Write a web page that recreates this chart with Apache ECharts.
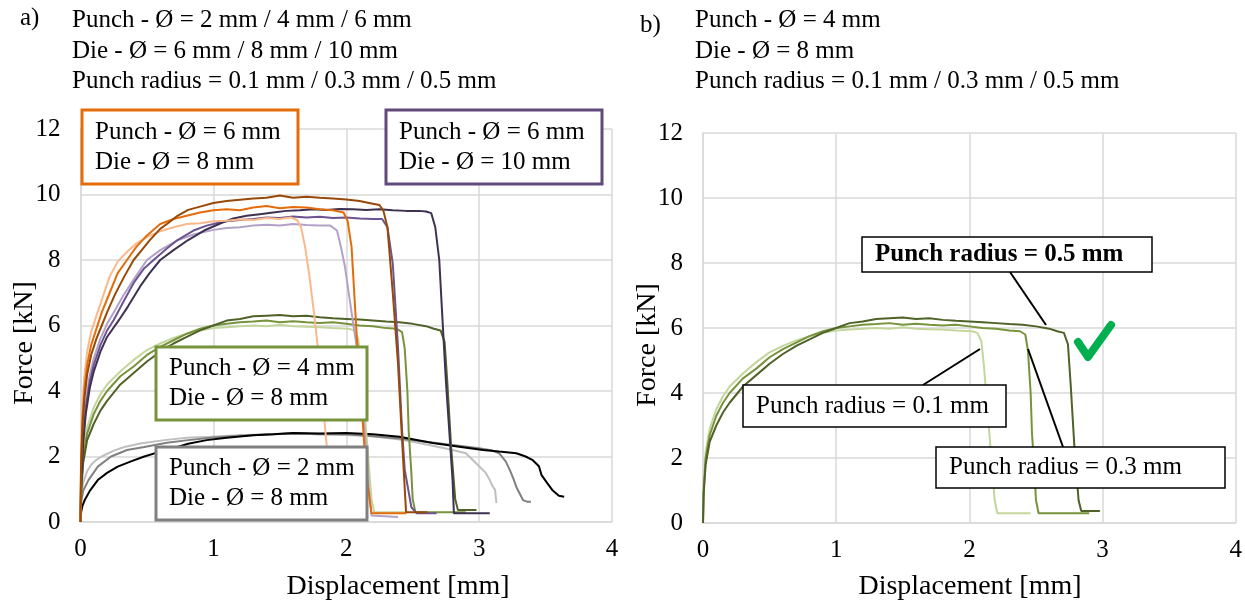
<!DOCTYPE html>
<html style="height: 100%">
<head>
    <meta charset="UTF-8">
    <title>Force - displacement</title>
    <script src="https://cdn.jsdelivr.net/npm/echarts/dist/echarts.min.js"></script>
    <style>
        #main { width: 1245px; height: 603px; }
    </style>
</head>
<body style="height: 100%; margin: 0; background: #fff">
    <div id="main"></div>
    <script type="text/javascript">
        // displacement [mm], force [kN]
        var lightOrange = [[0,0],[0.004,2.2],[0.015,3.6],[0.03,4.5],[0.05,5.2],[0.08,5.8],[0.12,6.3],[0.17,6.9],[0.22,7.5],[0.28,7.95],[0.35,8.25],[0.42,8.5],[0.5,8.7],[0.6,8.88],[0.7,9.0],[0.8,9.1],[0.9,9.12],[1.0,9.18],[1.1,9.2],[1.2,9.24],[1.3,9.22],[1.4,9.28],[1.5,9.25],[1.58,9.3],[1.63,9.22],[1.66,9.0],[1.69,8.4],[1.72,7.6],[1.76,6.3],[1.8,4.8],[1.84,2.9],[1.87,1.6],[1.9,0.5],[1.92,0.3],[2.1,0.3]];
        var orange = [[0,0],[0.004,1.8],[0.015,3.2],[0.03,4.1],[0.05,4.8],[0.08,5.4],[0.12,5.9],[0.16,6.4],[0.22,7.0],[0.28,7.6],[0.35,8.0],[0.42,8.4],[0.5,8.75],[0.6,9.1],[0.7,9.25],[0.8,9.35],[0.9,9.45],[1.0,9.52],[1.1,9.55],[1.2,9.52],[1.3,9.6],[1.4,9.65],[1.5,9.58],[1.6,9.62],[1.7,9.6],[1.8,9.55],[1.9,9.52],[1.98,9.45],[2.01,9.2],[2.04,8.4],[2.08,5.6],[2.12,3.3],[2.15,1.5],[2.19,0.27],[2.45,0.27]];
        var brown = [[0,0],[0.004,1.6],[0.015,2.9],[0.03,3.8],[0.05,4.5],[0.08,5.1],[0.12,5.6],[0.16,6.0],[0.2,6.4],[0.26,6.95],[0.33,7.5],[0.4,8.0],[0.47,8.35],[0.52,8.6],[0.6,8.95],[0.66,9.13],[0.73,9.35],[0.81,9.53],[0.9,9.63],[1.0,9.74],[1.1,9.8],[1.2,9.84],[1.3,9.88],[1.4,9.9],[1.5,9.97],[1.6,9.9],[1.7,9.93],[1.8,9.9],[1.9,9.88],[2.0,9.85],[2.1,9.8],[2.2,9.72],[2.25,9.68],[2.28,9.5],[2.31,9.0],[2.35,7.0],[2.39,4.8],[2.42,2.5],[2.45,0.3],[2.61,0.3]];
        var lightPurple = [[0,0],[0.005,1.5],[0.02,2.8],[0.04,3.7],[0.07,4.5],[0.1,5.0],[0.15,5.6],[0.2,6.05],[0.25,6.4],[0.32,6.9],[0.4,7.4],[0.5,8.0],[0.6,8.3],[0.73,8.6],[0.85,8.78],[1.0,8.92],[1.1,8.98],[1.2,9.0],[1.3,9.05],[1.4,9.08],[1.5,9.05],[1.6,9.1],[1.7,9.07],[1.8,9.05],[1.88,9.05],[1.93,8.9],[1.96,8.4],[1.99,7.8],[2.04,6.4],[2.08,5.3],[2.12,3.7],[2.15,2.2],[2.17,1.0],[2.19,0.2],[2.39,0.15]];
        var purple = [[0,0],[0.005,1.4],[0.02,2.6],[0.04,3.5],[0.07,4.3],[0.1,4.8],[0.15,5.4],[0.2,5.85],[0.25,6.17],[0.32,6.7],[0.4,7.3],[0.48,7.75],[0.55,8.0],[0.65,8.35],[0.73,8.61],[0.85,8.9],[0.95,9.05],[1.03,9.13],[1.1,9.18],[1.2,9.22],[1.3,9.25],[1.4,9.3],[1.5,9.28],[1.6,9.33],[1.7,9.3],[1.8,9.32],[1.9,9.28],[2.0,9.3],[2.1,9.27],[2.2,9.25],[2.27,9.25],[2.31,9.0],[2.35,7.9],[2.39,5.3],[2.42,2.8],[2.44,1.6],[2.49,0.45],[2.53,0.27],[2.68,0.27]];
        var darkPurple = [[0,0],[0.005,1.2],[0.02,2.4],[0.04,3.3],[0.07,4.1],[0.1,4.6],[0.15,5.2],[0.2,5.65],[0.29,6.17],[0.36,6.6],[0.45,7.2],[0.52,7.6],[0.6,8.0],[0.7,8.3],[0.81,8.61],[0.93,8.9],[1.06,9.13],[1.15,9.27],[1.25,9.35],[1.35,9.4],[1.45,9.45],[1.55,9.5],[1.65,9.52],[1.75,9.55],[1.85,9.53],[1.95,9.56],[2.05,9.55],[2.15,9.53],[2.25,9.55],[2.35,9.52],[2.45,9.5],[2.55,9.5],[2.6,9.48],[2.64,9.43],[2.67,9.0],[2.7,8.0],[2.72,6.5],[2.75,4.3],[2.78,2.5],[2.8,1.28],[2.81,0.27],[3.08,0.27]];
        var lightGreen = [[0,0],[0.005,1.2],[0.02,2.2],[0.05,2.9],[0.1,3.5],[0.15,3.9],[0.2,4.2],[0.3,4.6],[0.4,4.95],[0.5,5.25],[0.6,5.45],[0.7,5.62],[0.8,5.75],[0.9,5.85],[1.0,5.92],[1.1,5.95],[1.2,5.98],[1.3,6.0],[1.4,5.98],[1.5,6.02],[1.6,5.98],[1.7,5.96],[1.8,5.95],[1.9,5.92],[2.02,5.9],[2.06,5.85],[2.09,5.6],[2.11,4.8],[2.13,3.8],[2.16,2.25],[2.19,0.7],[2.21,0.3],[2.46,0.3]];
        var green = [[0,0],[0.005,1.0],[0.02,2.0],[0.05,2.7],[0.1,3.3],[0.15,3.7],[0.2,4.0],[0.3,4.45],[0.4,4.75],[0.5,5.1],[0.6,5.35],[0.7,5.55],[0.8,5.75],[0.9,5.9],[1.0,6.0],[1.1,6.05],[1.2,6.1],[1.3,6.12],[1.4,6.15],[1.5,6.1],[1.6,6.13],[1.7,6.1],[1.8,6.08],[1.9,6.1],[2.0,6.05],[2.1,6.0],[2.2,5.98],[2.3,5.92],[2.38,5.9],[2.42,5.8],[2.44,5.3],[2.46,4.0],[2.47,2.77],[2.49,1.5],[2.5,0.7],[2.52,0.3],[2.9,0.3]];
        var darkGreen = [[0,0],[0.005,0.9],[0.02,1.8],[0.05,2.5],[0.1,3.0],[0.15,3.4],[0.2,3.7],[0.3,4.2],[0.4,4.55],[0.5,4.9],[0.6,5.2],[0.7,5.45],[0.8,5.65],[0.9,5.85],[1.0,6.0],[1.1,6.15],[1.2,6.2],[1.3,6.28],[1.4,6.3],[1.5,6.32],[1.6,6.28],[1.7,6.3],[1.8,6.25],[1.9,6.22],[2.0,6.2],[2.1,6.18],[2.2,6.15],[2.3,6.12],[2.4,6.1],[2.5,6.05],[2.6,5.98],[2.66,5.9],[2.71,5.85],[2.74,5.5],[2.76,4.3],[2.79,2.25],[2.82,0.7],[2.84,0.37],[2.98,0.37]];
        var lightGray = [[0,0],[0.005,0.8],[0.02,1.2],[0.05,1.55],[0.08,1.75],[0.12,1.9],[0.16,2.0],[0.25,2.18],[0.33,2.29],[0.45,2.4],[0.63,2.5],[0.8,2.57],[0.98,2.6],[1.2,2.65],[1.4,2.68],[1.6,2.7],[1.8,2.68],[2.0,2.66],[2.2,2.62],[2.4,2.52],[2.5,2.45],[2.65,2.33],[2.8,2.2],[2.9,2.1],[3.0,1.7],[3.05,1.5],[3.08,1.28],[3.1,1.1],[3.12,0.98],[3.13,0.58]];
        var gray = [[0,0],[0.005,0.6],[0.02,0.95],[0.06,1.28],[0.13,1.69],[0.23,2.0],[0.35,2.2],[0.48,2.29],[0.65,2.42],[0.81,2.5],[1.0,2.58],[1.2,2.63],[1.4,2.67],[1.6,2.7],[1.8,2.68],[2.0,2.68],[2.2,2.62],[2.4,2.55],[2.6,2.45],[2.8,2.35],[3.0,2.25],[3.1,2.18],[3.15,2.1],[3.2,1.85],[3.23,1.6],[3.26,1.3],[3.28,1.07],[3.33,0.67],[3.36,0.62],[3.39,0.62]];
        var black = [[0,0],[0.005,0.3],[0.015,0.5],[0.032,0.67],[0.07,0.95],[0.13,1.28],[0.2,1.5],[0.28,1.69],[0.38,1.85],[0.48,2.0],[0.6,2.15],[0.7,2.25],[0.81,2.39],[0.95,2.5],[1.1,2.57],[1.18,2.6],[1.3,2.65],[1.45,2.68],[1.6,2.72],[1.8,2.7],[2.0,2.72],[2.2,2.68],[2.4,2.6],[2.65,2.41],[2.85,2.3],[3.03,2.2],[3.15,2.15],[3.28,2.1],[3.35,2.0],[3.4,1.9],[3.45,1.7],[3.47,1.43],[3.51,1.2],[3.55,0.98],[3.6,0.8],[3.64,0.77]];

        var serif = '"Liberation Serif", "Times New Roman", serif';

        function curve(data, color, panel, width) {
            return {
                type: 'line', data: data, xAxisIndex: panel, yAxisIndex: panel,
                showSymbol: false, silent: true, animation: false,
                lineStyle: { color: color, width: width || 2 }
            };
        }

        // white annotation box, text lines 30px apart around its middle
        function box(x, y, w, h, stroke, lw, lines, bold) {
            var els = [{
                type: 'rect', shape: { x: x, y: y, width: w, height: h }, z: 100,
                style: { fill: '#fff', stroke: stroke, lineWidth: lw }
            }];
            var n = lines.length;
            for (var i = 0; i < n; i++) {
                els.push({
                    type: 'text', z: 101, x: x + 13, y: y + h / 2 + (i - (n - 1) / 2) * 30,
                    style: { text: lines[i], font: (bold ? 'bold ' : '') + '25px ' + serif, fill: '#000', textVerticalAlign: 'middle' }
                });
            }
            return els;
        }

        function label(txt, x, y, size) {
            return { type: 'text', x: x, y: y, z: 101, style: { text: txt, font: (size || 25) + 'px ' + serif, fill: '#000', textVerticalAlign: 'middle' } };
        }

        function title(txt, x, y, vertical) {
            return {
                type: 'text', x: x, y: y, z: 101, rotation: vertical ? Math.PI / 2 : 0,
                style: { text: txt, font: '28px ' + serif, fill: '#000', textAlign: 'center', textVerticalAlign: 'middle' }
            };
        }

        function leader(x1, y1, x2, y2) {
            return { type: 'line', z: 99, shape: { x1: x1, y1: y1, x2: x2, y2: y2 }, style: { stroke: '#000', lineWidth: 2 } };
        }

        function xAxisFor(i) {
            return {
                type: 'value', gridIndex: i, min: 0, max: 4, interval: 1,
                axisLine: { lineStyle: { color: '#D9D9D9', width: 1.5 } },
                axisTick: { show: false },
                axisLabel: { fontFamily: serif, fontSize: 25, color: '#000', margin: 15 },
                splitLine: { lineStyle: { color: '#D9D9D9', width: 1.5 } }
            };
        }

        function yAxisFor(i) {
            return {
                type: 'value', gridIndex: i, min: 0, max: 12, interval: 2,
                axisLine: { show: true, lineStyle: { color: '#D9D9D9', width: 1.5 } },
                axisTick: { show: false },
                axisLabel: { fontFamily: serif, fontSize: 25, color: '#000', margin: 20 },
                splitLine: { lineStyle: { color: '#D9D9D9', width: 1.5 } }
            };
        }

        var graphics = [].concat(
            [label('a)', 20, 18),
             label('Punch - Ø = 2 mm / 4 mm / 6 mm', 72, 20),
             label('Die - Ø = 6 mm / 8 mm / 10 mm', 72, 51),
             label('Punch radius = 0.1 mm / 0.3 mm / 0.5 mm', 72, 81),
             label('b)', 640, 25),
             label('Punch - Ø = 4 mm', 695, 20),
             label('Die - Ø = 8 mm', 695, 51),
             label('Punch radius = 0.1 mm / 0.3 mm / 0.5 mm', 695, 81),
             title('Displacement [mm]', 398, 587),
             title('Displacement [mm]', 970, 587),
             title('Force [kN]', 25, 343, true),
             title('Force [kN]', 648, 345, true)],
            box(82, 110, 216, 74, '#E46C0A', 3, ['Punch - Ø = 6 mm', 'Die - Ø = 8 mm']),
            box(386, 110, 216, 74, '#604A7B', 3, ['Punch - Ø = 6 mm', 'Die - Ø = 10 mm']),
            box(156, 347, 211, 73, '#77933C', 3, ['Punch - Ø = 4 mm', 'Die - Ø = 8 mm']),
            box(156, 447, 211, 73, '#808080', 3, ['Punch - Ø = 2 mm', 'Die - Ø = 8 mm']),
            [leader(1010, 272, 1046, 325), leader(923, 385, 980, 349), leader(1028, 349, 1063, 447)],
            box(862, 237, 290, 35, '#000', 1.5, ['Punch radius = 0.5 mm'], true),
            box(743, 385, 263, 42, '#000', 1.5, ['Punch radius = 0.1 mm']),
            box(936, 447, 289, 41, '#000', 1.5, ['Punch radius = 0.3 mm']),
            [{
                type: 'polyline', z: 101, shape: { points: [[1078, 342], [1088, 357], [1111, 325]] },
                style: { stroke: '#00B050', lineWidth: 8, lineCap: 'round', lineJoin: 'round', fill: null }
            }]
        );

        var chartDom = document.getElementById('main');
        var myChart = echarts.init(chartDom);
        var option = {
            animation: false,
            backgroundColor: '#fff',
            grid: [
                { left: 80.5, right: 633, top: 129, bottom: 81 },
                { left: 703, right: 9, top: 133, bottom: 80 }
            ],
            xAxis: [xAxisFor(0), xAxisFor(1)],
            yAxis: [yAxisFor(0), yAxisFor(1)],
            graphic: graphics,
            series: [
                curve(lightGray, '#BFBFBF', 0),
                curve(gray, '#808080', 0),
                curve(black, '#000000', 0),
                curve(lightGreen, '#C3D69B', 0),
                curve(green, '#77933C', 0),
                curve(darkGreen, '#4F6228', 0),
                curve(lightPurple, '#B3A2C7', 0),
                curve(purple, '#6B5591', 0),
                curve(darkPurple, '#3F3151', 0),
                curve(lightOrange, '#F9B98A', 0),
                curve(orange, '#E46C0A', 0),
                curve(brown, '#984807', 0),
                curve(lightGreen, '#C3D69B', 1),
                curve(green, '#77933C', 1),
                curve(darkGreen, '#4F6228', 1)
            ]
        };
        myChart.setOption(option);
    </script>
</body>
</html>
